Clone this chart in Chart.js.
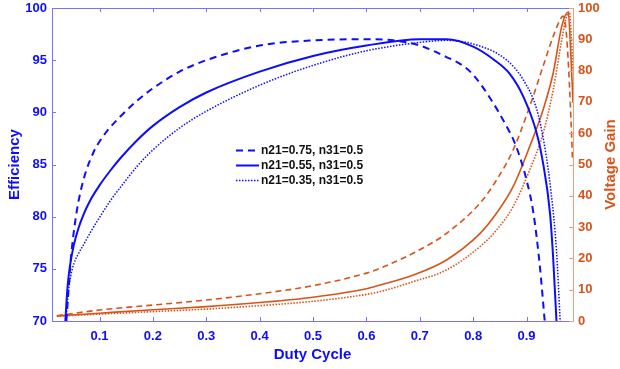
<!DOCTYPE html>
<html>
<head>
<meta charset="utf-8">
<script src="https://cdn.jsdelivr.net/npm/chart.js@4.4.0/dist/chart.umd.min.js"></script>
<style>
  html, body { margin: 0; padding: 0; background: #fff; }
  #wrap { width: 620px; height: 369px; }
</style>
</head>
<body>
<div id="wrap"><canvas id="chartCanvas" width="620" height="369"></canvas></div>
<script>
// values

// efficiency (left axis)
const duty75E = [0.038, 0.042, 0.046, 0.051, 0.057, 0.064, 0.075, 0.089, 0.1, 0.114, 0.139, 0.17, 0.2, 0.25, 0.3, 0.4, 0.5, 0.6, 0.65, 0.7, 0.75, 0.78, 0.8, 0.83, 0.86, 0.88, 0.9, 0.913, 0.925, 0.934];
const eff75 = [70, 73, 75.8, 78.2, 80.4, 82.3, 84.4, 86.2, 87.2, 88.2, 89.6, 91.1, 92.3, 93.9, 95.0, 96.4, 96.9, 97.0, 96.9, 96.4, 95.3, 94.5, 93.6, 91.5, 88.9, 86.8, 83.5, 80.3, 75.2, 70];

const duty55E = [0.036, 0.04, 0.045, 0.052, 0.06, 0.07, 0.083, 0.1, 0.12, 0.139, 0.17, 0.2, 0.25, 0.3, 0.4, 0.5, 0.6, 0.7, 0.75, 0.8, 0.84, 0.87, 0.894, 0.919, 0.931, 0.944, 0.95, 0.956];
const eff55 = [70, 73.2, 75.4, 77.3, 78.8, 80.2, 81.6, 83.0, 84.4, 85.6, 87.3, 88.7, 90.5, 91.9, 93.9, 95.4, 96.4, 97.0, 97.0, 96.3, 95.0, 93.6, 91.5, 88.0, 85.1, 80.3, 75.9, 70];

const duty35E = [0.037, 0.041, 0.046, 0.052, 0.06, 0.07, 0.083, 0.101, 0.12, 0.139, 0.17, 0.2, 0.25, 0.3, 0.4, 0.5, 0.6, 0.7, 0.75, 0.81, 0.863, 0.894, 0.919, 0.934, 0.946, 0.956, 0.963];
const eff35 = [70, 72.5, 74.3, 75.5, 76.4, 77.3, 78.5, 80.0, 81.5, 82.8, 84.8, 86.4, 88.5, 90.1, 92.6, 94.5, 95.9, 96.7, 96.9, 96.4, 95.0, 93.1, 90.3, 86.7, 82.3, 76.8, 70];

// voltage gain (right axis)
const duty75G = [0.02, 0.1, 0.2, 0.3, 0.4, 0.5, 0.6, 0.626, 0.688, 0.75, 0.813, 0.844, 0.875, 0.906, 0.931, 0.95, 0.963, 0.968, 0.974, 0.979, 0.983, 0.986];
const gain75 = [1.7, 3.5, 5.1, 6.7, 8.7, 11.3, 15.3, 16.9, 21.7, 28, 37.7, 45.1, 54.7, 68.6, 81.4, 91, 96.3, 97.4, 93, 80, 65, 52];

const duty55G = [0.02, 0.1, 0.2, 0.3, 0.4, 0.5, 0.6, 0.626, 0.688, 0.75, 0.813, 0.844, 0.875, 0.906, 0.931, 0.95, 0.966, 0.978, 0.983, 0.987];
const gain55 = [1.6, 2.5, 3.6, 4.6, 5.9, 7.6, 10.3, 11.5, 14.7, 19.5, 28, 34.5, 43, 55.8, 67.5, 79.3, 94.2, 98.7, 85, 70];

const duty35G = [0.02, 0.1, 0.2, 0.3, 0.4, 0.5, 0.6, 0.626, 0.688, 0.75, 0.813, 0.844, 0.875, 0.906, 0.931, 0.95, 0.966, 0.975, 0.98, 0.984, 0.987];
const gain35 = [1.5, 2.2, 3.0, 3.8, 4.9, 6.3, 8.5, 9.4, 12.6, 16.3, 23.8, 29.1, 36.6, 48.3, 60, 73.9, 89.9, 97.4, 98.8, 90, 80];

const xTicks = [0.1, 0.2, 0.3, 0.4, 0.5, 0.6, 0.7, 0.8, 0.9];
const effTicks = [70, 75, 80, 85, 90, 95, 100];
const gainTicks = [0, 10, 20, 30, 40, 50, 60, 70, 80, 90, 100];

const labels = ['n21=0.75, n31=0.5', 'n21=0.55, n31=0.5', 'n21=0.35, n31=0.5'];

const BLUE = '#0c0cff';
const ORANGE = '#d95319';
const BLUE_AXIS = '#7373ff';
const ORANGE_AXIS = '#eda080';
const FONT = "'Liberation Sans', Arial, sans-serif";

const pts = (xs, ys) => xs.map((x, i) => ({ x: x, y: ys[i] }));
const setTicks = list => scale => { scale.ticks = list.map(v => ({ value: v })); };
// fixed box sizes so the plot area lands where the original one is
const fixWidth = w => s => { s.width = w; s.paddingTop = 0; s.paddingBottom = 0; };
const fixHeight = h => s => { s.height = h; s.paddingLeft = 0; s.paddingRight = 0; };

// inward tick marks + top edge, like the original plot box
const frame = {
  id: 'frame',
  afterDraw(chart) {
    const { ctx, chartArea: a, scales } = chart;
    const len = 4;
    ctx.save();
    ctx.lineWidth = 1;
    ctx.strokeStyle = BLUE_AXIS;
    ctx.beginPath();
    ctx.moveTo(a.left, a.top + 0.5);
    ctx.lineTo(a.right, a.top + 0.5);
    xTicks.forEach(v => {
      const px = Math.round(scales.x.getPixelForValue(v)) + 0.5;
      ctx.moveTo(px, a.bottom); ctx.lineTo(px, a.bottom - len);
      ctx.moveTo(px, a.top); ctx.lineTo(px, a.top + len);
    });
    effTicks.forEach(v => {
      const py = Math.round(scales.y.getPixelForValue(v)) + 0.5;
      ctx.moveTo(a.left, py); ctx.lineTo(a.left + len, py);
    });
    ctx.stroke();
    ctx.strokeStyle = ORANGE_AXIS;
    ctx.beginPath();
    gainTicks.forEach(v => {
      const py = Math.round(scales.y1.getPixelForValue(v)) + 0.5;
      ctx.moveTo(a.right, py); ctx.lineTo(a.right - len, py);
    });
    ctx.stroke();

    // right axis title, reading bottom to top
    ctx.fillStyle = ORANGE;
    ctx.font = 'bold 15px ' + FONT;
    ctx.textAlign = 'center';
    ctx.textBaseline = 'middle';
    ctx.translate(611, (a.top + a.bottom) / 2);
    ctx.rotate(-Math.PI / 2);
    ctx.fillText('Voltage Gain', 0, 0);
    ctx.restore();
  }
};

// legend sits inside the plot, only the efficiency curves
const insideLegend = {
  id: 'insideLegend',
  afterDraw(chart) {
    const { ctx } = chart;
    ctx.save();
    ctx.font = 'bold 12px ' + FONT;
    ctx.textBaseline = 'middle';
    ctx.textAlign = 'left';
    [0, 1, 2].forEach(i => {
      const ds = chart.data.datasets[i];
      const y = 150 + i * 15;
      ctx.strokeStyle = ds.borderColor;
      ctx.lineWidth = ds.borderWidth;
      ctx.setLineDash(ds.borderDash || []);
      ctx.beginPath();
      ctx.moveTo(236, y + 0.5);
      ctx.lineTo(259, y + 0.5);
      ctx.stroke();
      ctx.setLineDash([]);
      ctx.fillStyle = '#111';
      ctx.fillText(ds.label, 261, y + 1);
    });
    ctx.restore();
  }
};

const ctx = document.getElementById('chartCanvas').getContext('2d');
new Chart(ctx, {
  type: 'line',
  data: {
    datasets: [
      { label: labels[0], data: pts(duty75E, eff75), yAxisID: 'y', borderColor: BLUE, borderWidth: 2, borderDash: [7, 5] },
      { label: labels[1], data: pts(duty55E, eff55), yAxisID: 'y', borderColor: BLUE, borderWidth: 2 },
      { label: labels[2], data: pts(duty35E, eff35), yAxisID: 'y', borderColor: BLUE, borderWidth: 1.5, borderDash: [1.5, 1.5] },
      { label: 'gain ' + labels[0], data: pts(duty75G, gain75), yAxisID: 'y1', borderColor: ORANGE, borderWidth: 1.6, borderDash: [6, 4] },
      { label: 'gain ' + labels[1], data: pts(duty55G, gain55), yAxisID: 'y1', borderColor: ORANGE, borderWidth: 1.6 },
      { label: 'gain ' + labels[2], data: pts(duty35G, gain35), yAxisID: 'y1', borderColor: ORANGE, borderWidth: 1.6, borderDash: [1.5, 1.5] }
    ]
  },
  options: {
    responsive: false,
    animation: false,
    devicePixelRatio: 1,
    layout: { padding: { top: 8, left: 0, right: 0, bottom: 0 } },
    elements: {
      point: { radius: 0 },
      line: { cubicInterpolationMode: 'monotone', fill: false }
    },
    plugins: {
      legend: { display: false },
      tooltip: { enabled: false }
    },
    scales: {
      x: {
        type: 'linear',
        min: 0.011,
        max: 0.987,
        afterBuildTicks: setTicks(xTicks),
        afterFit: fixHeight(48),
        grid: { display: false, drawTicks: false },
        border: { display: true, color: BLUE_AXIS, width: 1 },
        ticks: {
          color: BLUE,
          padding: 8,
          font: { family: FONT, size: 13, weight: 'bold' },
          callback: v => v.toFixed(1)
        },
        title: {
          display: true,
          text: 'Duty Cycle',
          color: BLUE,
          padding: { top: 6, bottom: 5 },
          font: { family: FONT, size: 15, weight: 'bold' }
        }
      },
      y: {
        position: 'left',
        min: 70,
        max: 100,
        afterBuildTicks: setTicks(effTicks),
        afterFit: fixWidth(52),
        grid: { display: false, drawTicks: false },
        border: { display: true, color: BLUE_AXIS, width: 1 },
        ticks: {
          color: BLUE,
          padding: 5,
          font: { family: FONT, size: 13, weight: 'bold' }
        },
        title: {
          display: true,
          text: 'Efficiency',
          color: BLUE,
          padding: { top: 6, bottom: 0 },
          font: { family: FONT, size: 15, weight: 'bold' }
        }
      },
      y1: {
        position: 'right',
        min: 0,
        max: 100,
        afterBuildTicks: setTicks(gainTicks),
        afterFit: fixWidth(47),
        grid: { display: false, drawTicks: false },
        border: { display: true, color: ORANGE_AXIS, width: 1 },
        ticks: {
          color: ORANGE,
          padding: 5,
          font: { family: FONT, size: 13, weight: 'bold' }
        }
      }
    }
  },
  plugins: [frame, insideLegend]
});
</script>
</body>
</html>
